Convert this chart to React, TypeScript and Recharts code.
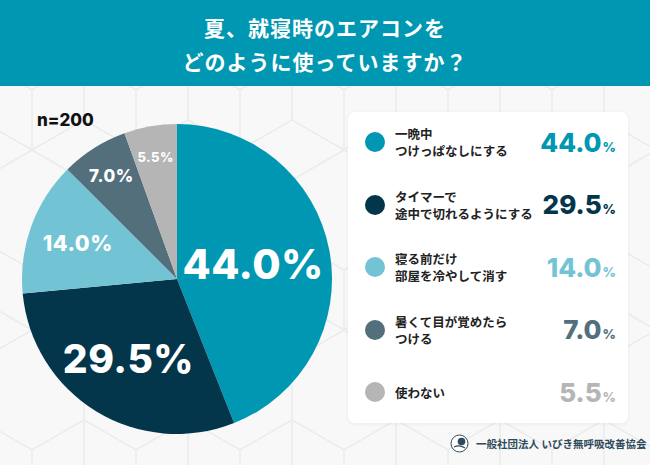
import { PieChart, Pie, Cell } from 'recharts'

const categories = [
  '一晩中\nつけっぱなしにする',
  'タイマーで\n途中で切れるようにする',
  '寝る前だけ\n部屋を冷やして消す',
  '暑くて目が覚めたら\nつける',
  '使わない',
]
const values = [44.0, 29.5, 14.0, 7.0, 5.5]
const colors = ['#0097b2', '#03364b', '#72c4d4', '#546f7c', '#b5b5b5']

const title = ['夏、就寝時のエアコンを', 'どのように使っていますか？']
const sampleLabel = 'n=200'
const footerText = '一般社団法人 いびき無呼吸改善協会'

const data = categories.map((name, i) => ({ name, value: values[i] }))

// label tuning per slice (radius fraction, font size)
const labelRadius = [0.5, 0.6, 0.68, 0.79, 0.8]
const labelSize = [41, 39, 21.5, 17, 13]

const RADIAN = Math.PI / 180
const jpFont = '"Noto Sans CJK JP", "Noto Sans", sans-serif'
const numFont = 'Inter, "Noto Sans", sans-serif'

const renderLabel = (props: any) => {
  const { cx, cy, midAngle, outerRadius, index, value } = props
  const r = outerRadius * labelRadius[index]
  const x = cx + r * Math.cos(-midAngle * RADIAN)
  const y = cy + r * Math.sin(-midAngle * RADIAN)
  return (
    <text
      x={x}
      y={y}
      fill="#fff"
      textAnchor="middle"
      dominantBaseline="central"
      fontFamily={numFont}
      fontWeight={800}
      fontSize={labelSize[index]}
      letterSpacing={0.5}
    >
      {value.toFixed(1)}%
    </text>
  )
}

function HexBackground() {
  return (
    <svg width={650} height={465} style={{ position: 'absolute', left: 0, top: 0 }}>
      <defs>
        <pattern id="hex" x="-20" y="-30" width="104" height="180" patternUnits="userSpaceOnUse">
          <path
            d="M52 0 L104 30 L104 90 L52 120 L0 90 L0 30 Z M52 120 L52 180 M0 90 L0 150 L52 180 L104 150 L104 90"
            fill="none"
            stroke="#ebebeb"
            strokeWidth={1.5}
          />
        </pattern>
      </defs>
      <rect width={650} height={465} fill="#f8f8f8" />
      <rect width={650} height={465} fill="url(#hex)" />
    </svg>
  )
}

export default function App() {
  return (
    <div
      style={{
        position: 'absolute',
        left: 0,
        top: 0,
        width: 650,
        height: 465,
        overflow: 'hidden',
        fontFamily: jpFont,
      }}
    >
      <HexBackground />

      <div
        style={{
          position: 'absolute',
          left: 0,
          top: 0,
          width: 650,
          height: 86,
          background: '#0097b2',
          color: '#fff',
          fontWeight: 700,
          fontSize: 21,
          textAlign: 'center',
          lineHeight: '34px',
          paddingTop: 10,
          boxSizing: 'border-box',
          letterSpacing: 1,
        }}
      >
        {title.map((t) => (
          <div key={t}>{t}</div>
        ))}
      </div>

      <div
        style={{
          position: 'absolute',
          left: 37,
          top: 110,
          fontFamily: numFont,
          fontWeight: 800,
          fontSize: 17,
          color: '#111',
        }}
      >
        {sampleLabel}
      </div>

      <div style={{ position: 'absolute', left: 2, top: 104 }}>
        <PieChart width={350} height={350} margin={{ top: 0, right: 0, bottom: 0, left: 0 }}>
          <Pie
            data={data}
            dataKey="value"
            cx={175}
            cy={175}
            outerRadius={155}
            startAngle={90}
            endAngle={-270}
            stroke="none"
            labelLine={false}
            label={renderLabel}
            isAnimationActive={false}
          >
            {data.map((d, i) => (
              <Cell key={d.name} fill={colors[i]} />
            ))}
          </Pie>
        </PieChart>
      </div>

      <div
        style={{
          position: 'absolute',
          left: 348,
          top: 112,
          width: 280,
          height: 311,
          background: '#fff',
          borderRadius: 7,
          boxShadow: '0 1px 4px rgba(0,0,0,0.06)',
        }}
      >
        {data.map((d, i) => (
          <div
            key={d.name}
            style={{
              position: 'absolute',
              left: 0,
              top: 30 + i * 62.5 - 22,
              width: 280,
              height: 44,
              display: 'flex',
              alignItems: 'center',
            }}
          >
            <div
              style={{
                marginLeft: 17,
                width: 20,
                height: 20,
                borderRadius: 10,
                background: colors[i],
                flexShrink: 0,
              }}
            />
            <div
              style={{
                marginLeft: 10,
                fontSize: 12.5,
                fontWeight: 700,
                lineHeight: '17px',
                color: '#222',
                whiteSpace: 'pre',
                flexGrow: 1,
              }}
            >
              {d.name}
            </div>
            <div
              style={{
                marginRight: 12,
                color: colors[i],
                fontFamily: numFont,
                fontWeight: 800,
                whiteSpace: 'nowrap',
              }}
            >
              <span style={{ fontSize: 26 }}>{d.value.toFixed(1)}</span>
              <span style={{ fontSize: 13, marginLeft: 1 }}>%</span>
            </div>
          </div>
        ))}
      </div>

      <div
        style={{
          position: 'absolute',
          left: 450,
          top: 434,
          display: 'flex',
          alignItems: 'center',
        }}
      >
        <svg width={19} height={19}>
          <circle cx={9.5} cy={9.5} r={8.5} fill="#fff" stroke="#2f4a5a" strokeWidth={1} />
          <circle cx={11.5} cy={7.5} r={3.8} fill="#2f4a5a" />
          <path d="M4 13 Q9.5 10.5 15 14" fill="none" stroke="#2f4a5a" strokeWidth={1.2} />
        </svg>
        <span
          style={{
            marginLeft: 7,
            fontSize: 10.5,
            fontWeight: 700,
            color: '#2f4a5a',
            whiteSpace: 'nowrap',
          }}
        >
          {footerText}
        </span>
      </div>
    </div>
  )
}
